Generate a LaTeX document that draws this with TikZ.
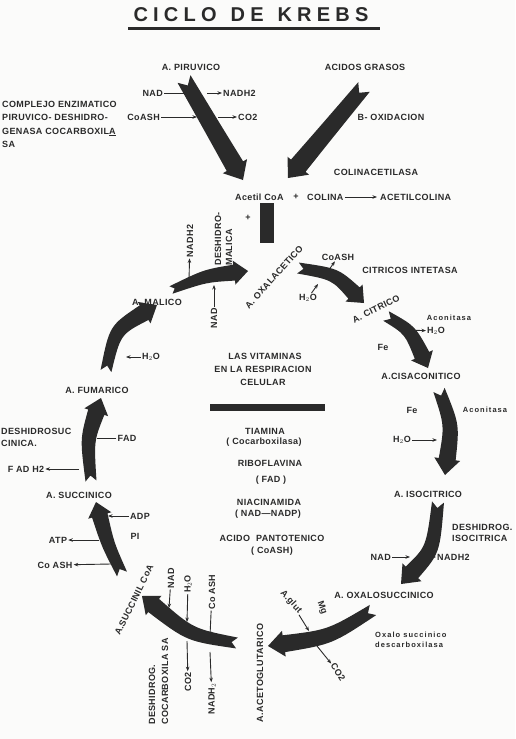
\documentclass[tikz,border=0pt]{standalone}
\usepackage{fontspec}
\setmainfont{Liberation Sans}[LetterSpace=4]
\usetikzlibrary{arrows.meta,calc}
\definecolor{ink}{HTML}{2A2A2A}
\definecolor{paper}{HTML}{FBFBFA}
\tikzset{
  lbl/.style={font=\bfseries\fontsize{9}{11}\selectfont, text=ink, inner sep=1pt},
  sml/.style={font=\bfseries\fontsize{7.5}{10.5}\selectfont\addfontfeature{LetterSpace=14}, text=ink, inner sep=1pt},
  sm/.style={draw=ink, line width=0.9pt, -{Stealth[length=4.5pt,width=3.5pt]}},
  tick/.style={draw=ink, line width=0.9pt},
  bigfill/.style={fill=ink}
}
% tapered arrow with notched tail
% #1 name, #2 tail, #3 control, #4 tip, #5 tail half width, #6 mid half width,
% #7 base half width, #8 head length, #9 head half width
\newcommand\bigarr[9]{%
  \coordinate (#1b) at ($(#4)!#8!(#3)$);
  \coordinate (#1n) at ($(#2)!#5!(#3)$);
  \fill[bigfill] (#1n) -- ($(#2)!#5!90:(#3)$)
     .. controls ($(#3)+($(#2)!#6!90:(#4)$)-(#2)$) .. ($(#1b)!#7!90:(#4)$)
     -- ($(#1b)!#9!90:(#4)$) -- (#4) -- ($(#1b)!#9!-90:(#4)$)
     -- ($(#1b)!#7!-90:(#4)$)
     .. controls ($(#3)+($(#2)!#6!-90:(#4)$)-(#2)$) .. ($(#2)!#5!-90:(#3)$)
     -- cycle;
}
\begin{document}
\begin{tikzpicture}[x=1pt,y=-1pt]
\fill[paper] (0,0) rectangle (515,739);
\path[use as bounding box] (0,0) rectangle (515,739);

% title
\node[font=\bfseries\fontsize{20}{22}\selectfont\addfontfeature{LetterSpace=26}, text=ink, inner sep=0pt] (title) at (251,15) {CICLO\hspace{14pt}DE\hspace{14pt}KREBS};
\fill[ink] (128,27) rectangle (380,29.5);

% top labels
\node[lbl] (piruv) at (191,67) {A. PIRUVICO};
\node[lbl] (grasos) at (365,67) {ACIDOS GRASOS};
\node[lbl, anchor=east] (nad1) at (164,93) {NAD};
\node[lbl, anchor=west] (nadh1) at (222,93) {NADH2};
\node[lbl, anchor=east] (coash1) at (161,117) {CoASH};
\node[lbl, anchor=west] (co2a) at (237,117) {CO2};
\node[lbl] (boxid) at (391,117) {B- OXIDACION};
\node[lbl] (colinac) at (376,172) {COLINACETILASA};
\node[lbl, anchor=west] (acetil) at (234,197) {Acetil CoA};
\node[lbl] (plus1) at (296,197) {+};
\node[lbl, anchor=west] (colina) at (306,197) {COLINA};
\node[lbl, anchor=west] (acetcol) at (379,197) {ACETILCOLINA};
\node[lbl] (plus2) at (248,218) {+};
\node[lbl, anchor=north west, align=left, font=\bfseries\fontsize{9}{13.3}\selectfont] (complejo) at (1,100) {COMPLEJO ENZIMATICO\\PIRUVICO- DESHIDRO-\\GENASA COCARBOXIL\underline{A}\\SA};

% big arrows of entry
\coordinate (t1) at (184,79);  \coordinate (h1) at (243,180);
\coordinate (t2) at (364,87);  \coordinate (h2) at (288,178);
\bigarr{P}{t1}{$(t1)!0.5!(h1)$}{h1}{7.5pt}{8.5pt}{9.5pt}{16pt}{14pt}
\bigarr{G}{t2}{$(t2)!0.5!(h2)$}{h2}{7.5pt}{8.5pt}{9.5pt}{16pt}{14pt}
\fill[ink] (260,203) rectangle (274,243);

\coordinate (c1) at (192,93);
\coordinate (c2) at (207,93);
\coordinate (c3) at (197,117);
\coordinate (c4) at (218,117);
\draw[sm] (nad1) -- (c1);
\draw[sm] (c2) -- (nadh1);
\draw[sm] (coash1) -- (c3);
\draw[sm] (c4) -- (co2a);
\draw[sm, shorten >=2pt] (colina) -- (acetcol);

% cycle labels
\node[lbl, rotate=48] (oxal) at (274,277) {A. OXALACETICO};
\node[lbl, rotate=26] (citr) at (376,309) {A. CITRICO};
\node[lbl] (cisac) at (421,376) {A.CISACONITICO};
\node[lbl] (isoc) at (428,494) {A. ISOCITRICO};
\node[lbl] (oxsuc) at (384,595) {A. OXALOSUCCINICO};
\node[lbl, rotate=90] (acglu) at (260,673) {A.ACETOGLUTARICO};
\node[lbl, rotate=64] (sucoa) at (134,600) {A.SUCCINIL CoA};
\node[lbl] (succ) at (79,495) {A. SUCCINICO};
\node[lbl] (fuma) at (97,390) {A. FUMARICO};
\node[lbl] (mali) at (157,302) {A. MALICO};

% cycle arrows
\coordinate (tA) at (298,268); \coordinate (cA) at (335,274); \coordinate (hA) at (364,303);
\bigarr{A}{tA}{cA}{hA}{5.5pt}{6.5pt}{8pt}{14pt}{12pt}
\coordinate (tB) at (386,316); \coordinate (cB) at (410,330); \coordinate (hB) at (428,368);
\bigarr{B}{tB}{cB}{hB}{5.5pt}{6.5pt}{8pt}{14pt}{12pt}
\coordinate (tC) at (439,390); \coordinate (cC) at (452,425); \coordinate (hC) at (445,475);
\bigarr{C}{tC}{cC}{hC}{6pt}{7.5pt}{8.5pt}{16pt}{13pt}
\coordinate (tD) at (438,502); \coordinate (cD) at (433,550); \coordinate (hD) at (401,584);
\bigarr{D}{tD}{cD}{hD}{6pt}{7.5pt}{8.5pt}{16pt}{13pt}
\coordinate (tE) at (373,610); \coordinate (cE) at (330,637); \coordinate (hE) at (268,646);
\bigarr{E}{tE}{cE}{hE}{6pt}{7.5pt}{8.5pt}{16pt}{13pt}
\coordinate (tF) at (237,643); \coordinate (cF) at (190,635); \coordinate (hF) at (142,596);
\bigarr{F}{tF}{cF}{hF}{5.5pt}{7pt}{8.5pt}{15pt}{12.5pt}
\coordinate (tG) at (122,574); \coordinate (cG) at (108,545); \coordinate (hG) at (96,502);
\bigarr{H}{tG}{cG}{hG}{5.5pt}{6.5pt}{8pt}{14pt}{12pt}
\coordinate (tH) at (91,481); \coordinate (cH) at (87,440); \coordinate (hH) at (101,398);
\bigarr{I}{tH}{cH}{hH}{5.5pt}{7pt}{8.5pt}{15pt}{12.5pt}
\coordinate (tI) at (106,371); \coordinate (cI) at (115,330); \coordinate (hI) at (157,305);
\bigarr{J}{tI}{cI}{hI}{5.5pt}{7pt}{8.5pt}{15pt}{12.5pt}
\coordinate (tJ) at (171,290); \coordinate (cJ) at (205,276); \coordinate (hJ) at (248,271);
\bigarr{K}{tJ}{cJ}{hJ}{4pt}{6.5pt}{8pt}{14pt}{12pt}

% malico -> oxalacetico cofactors
\node[lbl, rotate=90] (nadh2m) at (190,241) {NADH2};
\node[lbl, rotate=90, anchor=west, align=left, font=\bfseries\fontsize{9}{11}\selectfont] (deshm) at (223.5,267) {DESHIDRO-\\MALICA};
\node[lbl, rotate=90] (nadm) at (214,318) {NAD};
\coordinate (m1) at (189,280);
\coordinate (m2) at (214,285);
\draw[sm] (m1) -- (nadh2m);
\draw[sm] (nadm) -- (m2);

% oxalacetico -> citrico
\node[lbl] (coash2) at (338,257) {CoASH};
\node[lbl] (h2o1) at (308,298) {H$_2$O};
\node[lbl] (citsin) at (410,270) {CITRICOS INTETASA};
\coordinate (o1) at (326,274);
\coordinate (o2) at (318,284);
\draw[sm] (o1) -- (coash2);
\draw[sm] (h2o1) -- (o2);

% citrico -> cisaconitico
\node[sml] (acon1) at (449,318) {Aconitasa};
\node[lbl] (h2o2) at (436,331) {H$_2$O};
\node[lbl] (fe1) at (383,347) {Fe};
\coordinate (q1) at (407,330);
\draw[sm] (q1) -- (h2o2);

% cisaconitico -> isocitrico
\node[lbl] (fe2) at (412,410) {Fe};
\node[sml] (acon2) at (485,410) {Aconitasa};
\node[lbl] (h2o3) at (402,440) {H$_2$O};
\coordinate (q2) at (437,440);
\draw[sm] (h2o3) -- (q2);

% isocitrico -> oxalosuccinico
\node[lbl, anchor=east] (nad3) at (392,557) {NAD};
\node[lbl, anchor=west] (nadh3) at (436,557) {NADH2};
\node[lbl, anchor=west, align=left, font=\bfseries\fontsize{9}{10.5}\selectfont] (deshiso) at (451,533) {DESHIDROG.\\ISOCITRICA};
\coordinate (r1) at (410,557);
\coordinate (r2) at (421,557);
\draw[sm] (nad3) -- (r1);
\draw[sm] (r2) -- (nadh3);

% oxalosuccinico -> acetoglutarico
\node[lbl, rotate=-48] (aglut) at (291,602) {A.glut};
\node[lbl, rotate=-70] (mg) at (322,608) {Mg};
\node[lbl, rotate=-58] (co2b) at (338,672) {CO2};
\node[sml, anchor=west, align=left] (oxdesc) at (374,640) {Oxalo succinico\\descarboxilasa};
\coordinate (s1) at (309,631);
\coordinate (s2) at (317,646);
\draw[sm] (aglut) -- (s1);
\draw[sm] (s2) -- (co2b);

% acetoglutarico -> succinil CoA
\node[lbl, rotate=90] (nadb) at (171,578) {NAD};
\node[lbl, rotate=90] (h2ob) at (188,584) {H$_2$O};
\node[lbl, rotate=90] (coashb) at (212,592) {Co ASH};
\node[lbl, rotate=90] (co2c) at (188,682) {CO2};
\node[lbl, rotate=90] (nadh2b) at (212,699) {NADH$_2$};
\node[lbl, rotate=90, anchor=west, align=left, font=\bfseries\fontsize{9}{13}\selectfont] (deshcoc) at (158.5,726) {DESHIDROG.\\COCARBOXILA SA};
\coordinate (u1) at (169,608);
\coordinate (u2) at (187,622);
\coordinate (u3) at (210,636);
\coordinate (u4) at (187,641);
\coordinate (u5) at (210,652);
\draw[sm] (nadb) -- (u1);
\draw[sm] (h2ob) -- (u2);
\draw[sm] (coashb) -- (u3);
\draw[sm] (u4) -- (co2c);
\draw[sm] (u5) -- (nadh2b);

% succinil CoA -> succinico
\node[lbl] (adp) at (140,516) {ADP};
\node[lbl] (pi) at (135,536) {PI};
\node[lbl] (atp) at (58,540) {ATP};
\node[lbl] (coash3) at (55,565) {Co ASH};
\coordinate (v1) at (108,516);
\coordinate (v2) at (99,540);
\coordinate (v3) at (111,564);
\draw[sm] (adp) -- (v1);
\draw[sm] (v2) -- (atp);
\draw[sm] (v3) -- (coash3);

% succinico -> fumarico
\node[lbl] (fad) at (127,438) {FAD};
\node[lbl] (fadh2) at (26,469) {F AD H2};
\node[lbl, anchor=north west, align=left, font=\bfseries\fontsize{9}{12}\selectfont] (deshsuc) at (0,427) {DESHIDROSUC\\CINICA.};
\coordinate (w1) at (97,438);
\coordinate (w2) at (79,469);
\draw[tick] (fad) -- (w1);
\draw[sm] (w2) -- (fadh2);

% fumarico -> malico
\node[lbl] (h2o4) at (151,357) {H$_2$O};
\coordinate (x1) at (126,357);
\draw[sm] (h2o4) -- (x1);

% central block
\node[lbl] (vit1) at (265,356) {LAS VITAMINAS};
\node[lbl] (vit2) at (263,369) {EN LA RESPIRACION};
\node[lbl] (vit3) at (263,382) {CELULAR};
\fill[ink] (210,404) rectangle (325,411);
\node[lbl] (tiam) at (265,431) {TIAMINA};
\node[lbl] (cocarb) at (264,442) {( Cocarboxilasa)};
\node[lbl] (ribo) at (270,463) {RIBOFLAVINA};
\node[lbl] (fadc) at (271,480) {( FAD )};
\node[lbl] (niac) at (269,502) {NIACINAMIDA};
\node[lbl] (nadp) at (268,514) {( NAD---NADP)};
\node[lbl] (panto) at (272,538) {ACIDO\hspace{6pt}PANTOTENICO};
\node[lbl] (coashc) at (272,551) {( CoASH)};
\end{tikzpicture}
\end{document}
